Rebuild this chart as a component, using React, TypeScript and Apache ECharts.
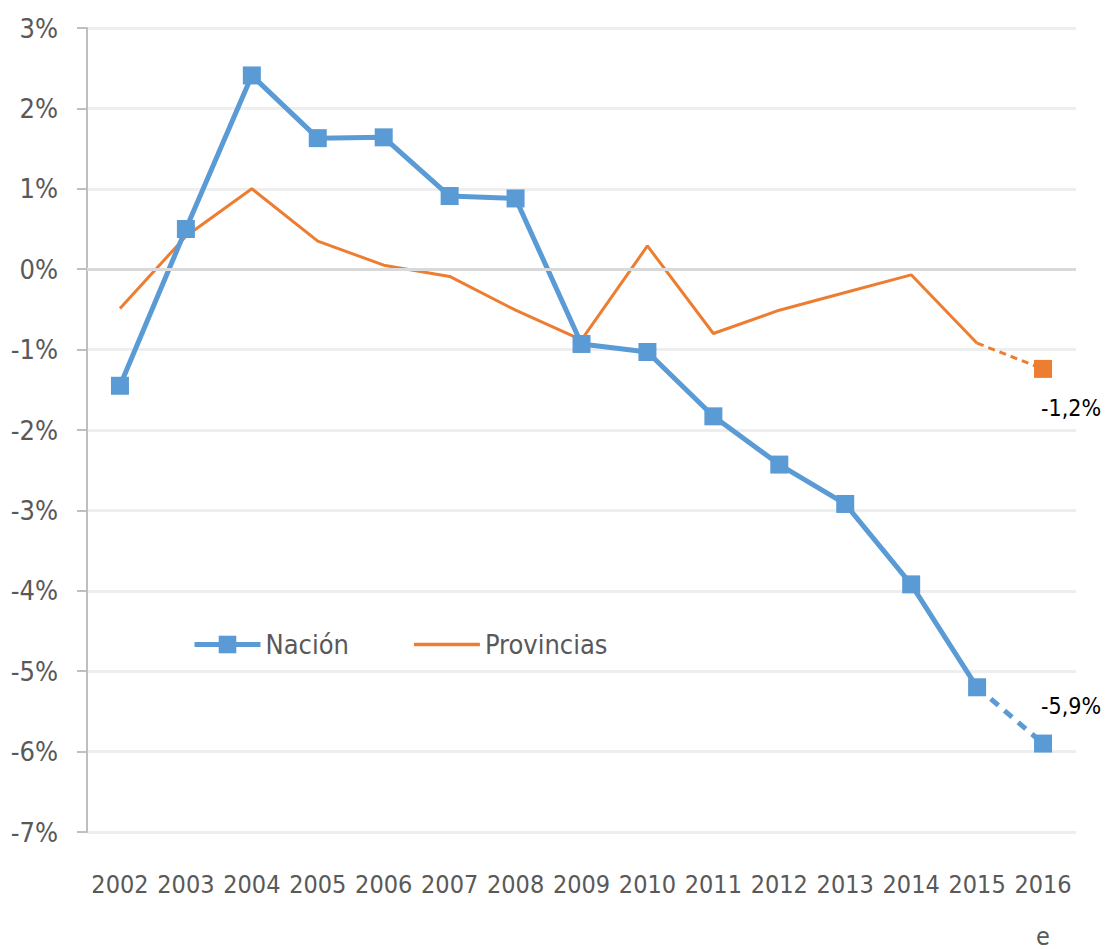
import React, { useEffect, useRef } from "react";
import * as echarts from "echarts";

const years = ["2002", "2003", "2004", "2005", "2006", "2007", "2008", "2009", "2010", "2011", "2012", "2013", "2014", "2015", "2016\ne"];
const nacion = [-1.45, 0.5, 2.41, 1.63, 1.64, 0.91, 0.88, -0.93, -1.03, -1.83, -2.43, -2.92, -3.92, -5.2, -5.9];
const provincias = [-0.49, 0.41, 1.0, 0.35, 0.05, -0.09, -0.51, -0.88, 0.29, -0.8, -0.51, -0.29, -0.07, -0.92, -1.24];
const endLabels = { nacion: "-5,9%", provincias: "-1,2%" };
const yTicks = { min: -7, max: 3, interval: 1 };

const FONT = '"DejaVu Sans Condensed", "Liberation Sans Narrow", "DejaVu Sans", sans-serif';
const BLUE = "#5b9bd5";
const ORANGE = "#ed7d31";

export default function App() {
  const ref = useRef<HTMLDivElement>(null);
  useEffect(() => {
    const chart = echarts.init(ref.current!, null, { renderer: "svg" });
    const n = years.length;
    const solidN = nacion.map((v, i) => (i < n - 1 ? v : null));
    const dashN = nacion.map((v, i) => (i === n - 2 ? { value: v, symbol: "none" } : i === n - 1 ? v : null));
    const solidP = provincias.map((v, i) => (i < n - 1 ? v : null));
    const dashP = provincias.map((v, i) => (i === n - 2 ? { value: v, symbol: "none" } : i === n - 1 ? v : null));
    chart.setOption({
      animation: false,
      textStyle: { fontFamily: FONT },
      grid: { left: 87, right: 33, top: 28, bottom: 117, outerBoundsMode: "none", containLabel: false },
      legend: {
        data: [
          { name: "Nación", lineStyle: { width: 5, color: BLUE } },
          { name: "Provincias", icon: "path://M0,0L66,0L66,3.5L0,3.5Z", itemStyle: { color: ORANGE } },
        ],
        left: 187,
        top: 626,
        itemWidth: 66,
        itemHeight: 22,
        itemGap: 65,
        textStyle: { fontFamily: FONT, fontSize: 27, color: "#595959", padding: [0, 0, 0, 0] },
      },
      xAxis: {
        type: "category",
        data: years,
        boundaryGap: true,
        axisLine: { show: false, onZero: false },
        axisTick: { show: false },
        splitLine: { show: false },
        axisLabel: {
          interval: 0,
          fontFamily: FONT,
          fontSize: 25,
          color: "#595959",
          margin: 26,
          lineHeight: 52,
          verticalAlign: "top",
        },
      },
      yAxis: {
        type: "value",
        min: yTicks.min,
        max: yTicks.max,
        interval: yTicks.interval,
        axisLine: { show: true, lineStyle: { color: "#bfbfbf", width: 2 } },
        axisTick: { show: true, length: 10, lineStyle: { color: "#bfbfbf", width: 2 } },
        splitLine: { show: true, lineStyle: { color: "#eeeeee", width: 3 } },
        axisLabel: {
          fontFamily: FONT,
          fontSize: 27,
          color: "#595959",
          margin: 29,
          formatter: (v: number) => `${v}%`,
        },
      },
      series: [
        {
          name: "zero",
          type: "line",
          data: [],
          silent: true,
          markLine: {
            symbol: "none",
            silent: true,
            label: { show: false },
            lineStyle: { color: "#d9d9d9", width: 3, type: "solid" },
            data: [{ yAxis: 0 }],
          },
        },
        {
          name: "Provincias",
          type: "line",
          data: solidP,
          symbol: "none",
          lineStyle: { color: ORANGE, width: 3 },
          itemStyle: { color: ORANGE },
          z: 2,
        },
        {
          name: "ProvinciasEst",
          type: "line",
          data: dashP,
          symbol: "rect",
          symbolSize: 18,
          lineStyle: { color: ORANGE, width: 3, type: [7, 5] },
          itemStyle: { color: ORANGE },
          z: 2,
          label: {
            show: true,
            position: "bottom",
            fontFamily: FONT,
            fontSize: 23,
            color: "#000",
            offset: [28, 14],
            formatter: (p: any) => (p.dataIndex === n - 1 ? endLabels.provincias : ""),
          },
        },
        {
          name: "NaciónEst",
          type: "line",
          data: dashN,
          symbol: "rect",
          symbolSize: 18,
          lineStyle: { color: BLUE, width: 5, type: [10, 8] },
          itemStyle: { color: BLUE },
          z: 3,
          label: {
            show: true,
            position: "top",
            fontFamily: FONT,
            fontSize: 23,
            color: "#000",
            offset: [28, -12],
            formatter: (p: any) => (p.dataIndex === n - 1 ? endLabels.nacion : ""),
          },
        },
        {
          name: "Nación",
          type: "line",
          data: solidN,
          symbol: "rect",
          symbolSize: 18,
          lineStyle: { color: BLUE, width: 5 },
          itemStyle: { color: BLUE },
          z: 4,
        },
      ],
    });
    return () => chart.dispose();
  }, []);
  return <div ref={ref} style={{ width: 1109, height: 949, position: "absolute", left: 0, top: 0 }} />;
}
